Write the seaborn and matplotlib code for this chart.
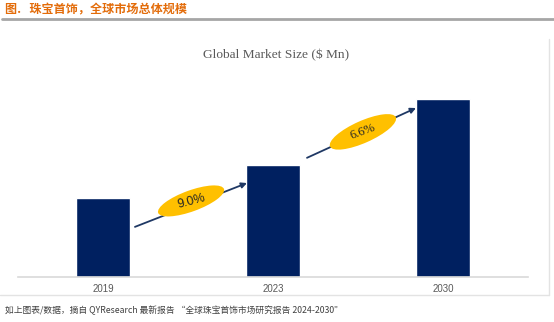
import matplotlib
matplotlib.use("Agg")
import matplotlib.pyplot as plt
import seaborn as sns
import pandas as pd
from matplotlib.patches import Ellipse
from matplotlib.transforms import ScaledTranslation
from matplotlib.lines import Line2D

# ---- data ----
years = ["2019", "2023", "2030"]
market_size = [226, 320, 508]
cagr_labels = ["9.0%", "6.6%"]

sns.set_theme(style="white")
plt.rcParams['font.family'] = ['Liberation Sans', 'Noto Sans CJK SC', 'DejaVu Sans']

df = pd.DataFrame({"year": years, "size": market_size})

fig = plt.figure(figsize=(5.54, 3.22), dpi=100)
W, H = 554, 322
def fx(px): return px / W
def fy(py): return 1 - py / H

ax = fig.add_axes([fx(18), fy(277), fx(528) - fx(18), fy(60) - fy(277)])
sns.barplot(data=df, x="year", y="size", color="#002060", width=0.32, ax=ax,
            saturation=1)
ax.set_xlim(-0.5, 2.5)
ax.set_ylim(0, 619)
ax.set_xlabel("")
ax.set_ylabel("")
ax.set_yticks([])
for s in ["top", "right", "left"]:
    ax.spines[s].set_visible(False)
ax.spines["bottom"].set_color("#D9D9D9")
ax.spines["bottom"].set_linewidth(1.2)
ax.tick_params(axis="x", length=0, labelsize=7, colors="#595959", pad=5)

# growth arrows (annotations)
arrows = [((0.188, 143), (0.847, 268)), ((1.20, 340), (1.841, 482))]
for (x0, y0), (x1, y1) in arrows:
    ax.annotate("", xy=(x1, y1), xytext=(x0, y0),
                arrowprops=dict(arrowstyle="-|>", color="#1F3864", lw=1.3,
                                mutation_scale=8, shrinkA=0, shrinkB=0))

# CAGR ellipses
ell = [((0.518, 217), 0.70, 0.21, 20, 15, "Liberation Sans"),
       ((1.529, 414), 0.72, 0.22, 24, 20, "Liberation Serif")]
for ((cx, cy), w, h, ang, rot, fam), lab in zip(ell, cagr_labels):
    tr = fig.dpi_scale_trans + ScaledTranslation(cx, cy, ax.transData)
    e = Ellipse((0, 0), w, h, angle=ang, facecolor="#FFC000",
                edgecolor="none", zorder=5)
    ax.add_patch(e)
    e.set_transform(tr)
    e.set_clip_on(False)
    ax.text(cx, cy, lab, ha="center", va="center", rotation=rot,
            rotation_mode="anchor", fontsize=9, color="#262626",
            fontfamily=fam, zorder=6)

# chart title
fig.text(fx(276), fy(55), "Global Market Size ($ Mn)", ha="center", va="center",
         fontsize=9.6, color="#595959", family="Liberation Serif")

# frame lines
fig.add_artist(Line2D([fx(549), fx(549)], [fy(39), fy(295)], color="#E3E3E3", lw=1))
fig.add_artist(Line2D([fx(0), fx(549)], [fy(295), fy(295)], color="#E3E3E3", lw=1))

# header
fig.text(fx(5), fy(10), "图.   珠宝首饰，全球市场总体规模", ha="left", va="center",
         fontsize=8.7, fontweight="bold", color="#E36C0A",
         family=["Noto Sans CJK SC", "DejaVu Sans"])
fig.add_artist(Line2D([fx(2), fx(554)], [fy(18.5), fy(18.5)], color="#A6A6A6", lw=2))

# footer
fig.text(fx(5), fy(310), "如上图表/数据，摘自 QYResearch 最新报告 “全球珠宝首饰市场研究报告 2024-2030”",
         ha="left", va="center", fontsize=6.3, style="italic", color="#404040",
         family=["Noto Sans CJK SC", "DejaVu Sans"])

fig.savefig("out.png", dpi=100)
